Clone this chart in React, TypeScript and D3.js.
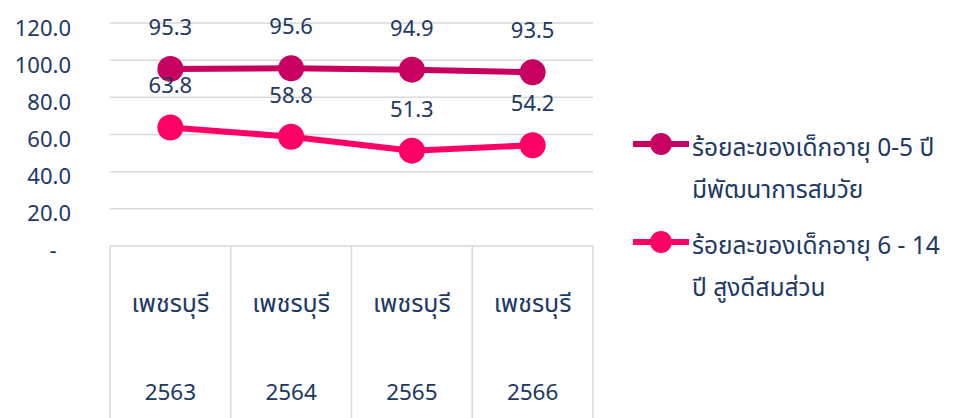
import React, { useRef, useEffect } from "react";
import * as d3 from "d3";

const provinces = ["เพชรบุรี", "เพชรบุรี", "เพชรบุรี", "เพชรบุรี"];
const years = ["2563", "2564", "2565", "2566"];
const devValues = [95.3, 95.6, 94.9, 93.5];
const growthValues = [63.8, 58.8, 51.3, 54.2];
const yTicks = [0, 20, 40, 60, 80, 100, 120];
const seriesNames = [
  ["ร้อยละของเด็กอายุ 0-5 ปี", "มีพัฒนาการสมวัย"],
  ["ร้อยละของเด็กอายุ 6 - 14", "ปี สูงดีสมส่วน"],
];

const W = 956;
const H = 418;
const FONT = "'Noto Sans', 'Noto Sans Thai', sans-serif";
const TEXT = "#203864";
const GRID = "#D9D9D9";

const App = () => {
  const ref = useRef<SVGSVGElement | null>(null);

  useEffect(() => {
    const svg = d3.select(ref.current);
    svg.selectAll("*").remove();

    const x = d3.scaleBand().domain(years).range([110, 593]);
    const y = d3.scaleLinear().domain([0, 120]).range([246, 23]);
    const cx = (i: number) => (x(years[i]) as number) + x.bandwidth() / 2;

    // horizontal gridlines
    svg
      .append("g")
      .selectAll("line")
      .data(yTicks)
      .enter()
      .append("line")
      .attr("x1", 110)
      .attr("x2", 593)
      .attr("y1", (d) => y(d))
      .attr("y2", (d) => y(d))
      .attr("stroke", GRID)
      .attr("stroke-width", 1.5);

    // y labels
    svg
      .append("g")
      .selectAll("text")
      .data(yTicks)
      .enter()
      .append("text")
      .attr("x", (d) => (d === 0 ? 53 : 71))
      .attr("y", (d) => (d === 0 ? y(d) + 12 : y(d) + 12.5))
      .attr("text-anchor", (d) => (d === 0 ? "middle" : "end"))
      .attr("font-family", FONT)
      .attr("font-size", 22)
      .attr("fill", TEXT)
      .text((d) => (d === 0 ? "-" : d.toFixed(1)));

    // category separators
    const bounds = years.map((yr) => x(yr) as number).concat([593]);
    svg
      .append("g")
      .selectAll("line")
      .data(bounds)
      .enter()
      .append("line")
      .attr("x1", (d) => d)
      .attr("x2", (d) => d)
      .attr("y1", y(0))
      .attr("y2", H)
      .attr("stroke", GRID)
      .attr("stroke-width", 1.5);

    // category labels
    const cat = svg.append("g").attr("font-family", FONT).attr("fill", TEXT).attr("text-anchor", "middle");
    provinces.forEach((p, i) => {
      cat.append("text").attr("x", cx(i)).attr("y", 312).attr("font-size", 25).text(p);
      cat.append("text").attr("x", cx(i)).attr("y", 400).attr("font-size", 22.5).text(years[i]);
    });

    const series = [
      { values: devValues, color: "#C8005F" },
      { values: growthValues, color: "#FF0066" },
    ];

    const line = d3
      .line<number>()
      .x((_, i) => cx(i))
      .y((d) => y(d));

    series.forEach((s) => {
      svg
        .append("path")
        .attr("d", line(s.values))
        .attr("fill", "none")
        .attr("stroke", s.color)
        .attr("stroke-width", 6)
        .attr("stroke-linejoin", "round");
      svg
        .append("g")
        .selectAll("circle")
        .data(s.values)
        .enter()
        .append("circle")
        .attr("cx", (_, i) => cx(i))
        .attr("cy", (d) => y(d))
        .attr("r", 13)
        .attr("fill", s.color);
    });

    // data labels
    series.forEach((s) => {
      svg
        .append("g")
        .selectAll("text")
        .data(s.values)
        .enter()
        .append("text")
        .attr("x", (_, i) => cx(i))
        .attr("y", (d) => y(d) - 34)
        .attr("text-anchor", "middle")
        .attr("font-family", FONT)
        .attr("font-size", 22)
        .attr("fill", TEXT)
        .text((d) => d.toFixed(1));
    });

    // legend
    series.forEach((s, i) => {
      const ly = 144 + i * 98;
      const g = svg.append("g");
      g.append("line")
        .attr("x1", 633)
        .attr("x2", 689)
        .attr("y1", ly)
        .attr("y2", ly)
        .attr("stroke", s.color)
        .attr("stroke-width", 6);
      g.append("circle").attr("cx", 661).attr("cy", ly).attr("r", 11).attr("fill", s.color);
      seriesNames[i].forEach((t, j) => {
        g.append("text")
          .attr("x", 692)
          .attr("y", ly + 12 + j * 42)
          .attr("font-family", FONT)
          .attr("font-size", 24.5)
          .attr("fill", TEXT)
          .text(t);
      });
    });
  }, []);

  return (
    <div style={{ position: "absolute", left: 0, top: 0 }}>
      <svg ref={ref} width={W} height={H} style={{ display: "block", background: "#fff" }} />
    </div>
  );
};

export default App;
